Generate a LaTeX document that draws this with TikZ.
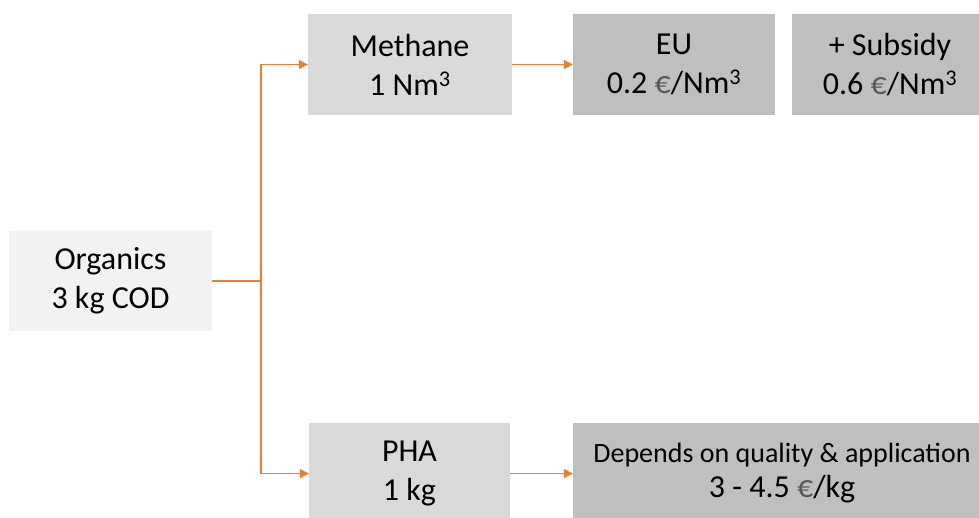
\documentclass[tikz,border=0pt]{standalone}
\usepackage{fontspec}
\setmainfont{Carlito}
\usetikzlibrary{arrows.meta}
\definecolor{flowline}{HTML}{ED7D31}
\definecolor{lightbox}{HTML}{F2F2F2}
\definecolor{midbox}{HTML}{D9D9D9}
\definecolor{darkbox}{HTML}{BFBFBF}
\definecolor{eurogrey}{HTML}{595959}
\newcommand{\eur}{\textcolor{eurogrey}{€}}
\newcommand{\cubed}{\textsuperscript{3}}
\begin{document}
\begin{tikzpicture}[x=1pt,y=1pt,
  box/.style={draw=none, inner sep=0pt, align=center,
    font=\fontsize{32}{39}\selectfont, minimum height=101pt},
  flow/.style={draw=flowline, line width=1.2pt},
  flowarr/.style={flow, -{Triangle[length=9pt,width=9pt]}}]
\useasboundingbox (0,0) rectangle (979,517);
\clip (0,0) rectangle (979,517);

% source
\node[box, fill=lightbox, minimum width=203pt, minimum height=100pt] (org) at (110.5,236) {Organics\\3 kg COD};

% products
\node[box, fill=midbox, minimum width=204pt] (meth) at (410,452.5) {Methane\\1 Nm\cubed};
\node[box, fill=midbox, minimum width=201pt] (pha) at (409.5,43.5) {PHA\\1 kg};

% market values
\node[box, fill=darkbox, minimum width=202pt] (eu) at (674,452.5) {EU\\0.2 \eur/Nm\cubed};
\node[box, fill=darkbox, minimum width=196pt] (sub) at (890,452.5) {+ Subsidy\\0.6 \eur/Nm\cubed};
\node[box, fill=darkbox, minimum width=418pt] (dep) at (782,43.5)
  {{\fontsize{28}{32}\selectfont Depends on quality \& application}\\[-4pt]3 - 4.5 \eur/kg};

% connectors
\coordinate (split) at (261,236);
\draw[flow] (org.east) -- (split);
\draw[flowarr] (split) |- (meth.west);
\draw[flowarr] (split) |- (pha.west);
\draw[flowarr] (meth.east) -- (eu.west);
\draw[flowarr] (pha.east) -- (dep.west);
\end{tikzpicture}
\end{document}
